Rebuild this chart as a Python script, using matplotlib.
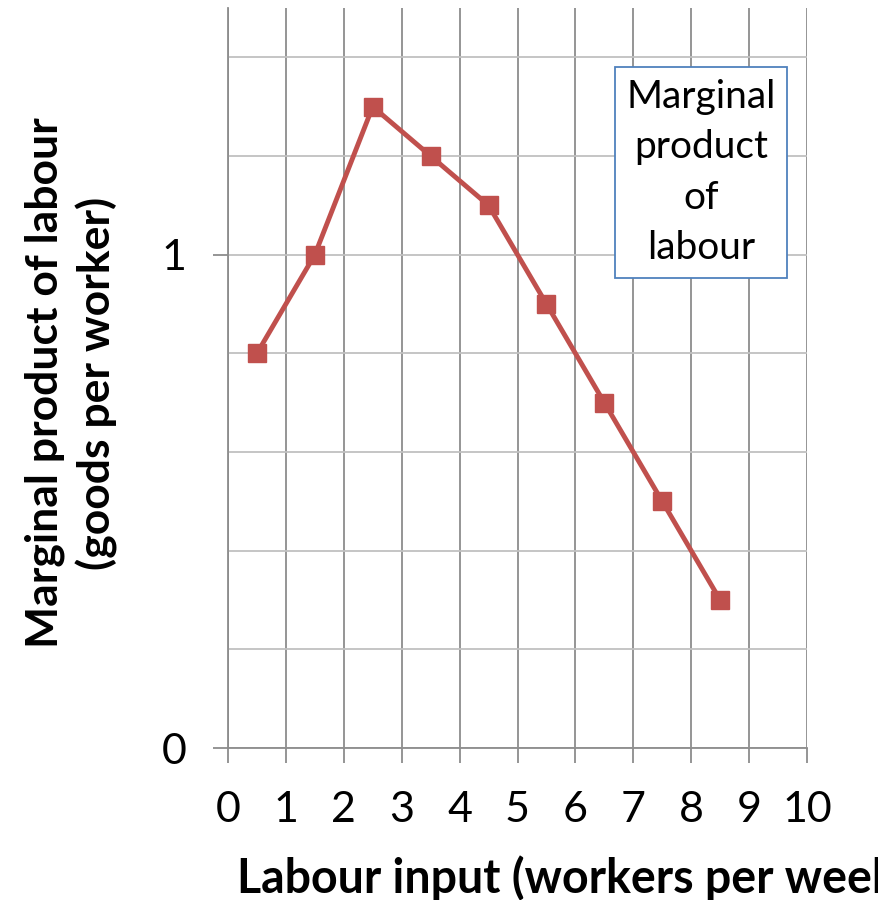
import numpy as np
import matplotlib.pyplot as plt

# labour input (workers per week) and marginal product
workers = [0.5, 1.5, 2.5, 3.5, 4.5, 5.5, 6.5, 7.5, 8.5]
mpl_values = [0.8, 1.0, 1.3, 1.2, 1.1, 0.9, 0.7, 0.5, 0.3]
x_ticks = list(range(0, 11))
y_ticks = [0, 1]

plt.rcParams['font.family'] = ['Lato', 'DejaVu Sans']

fig = plt.figure(figsize=(8.79, 9), dpi=100)
ax = fig.add_axes([228/879, 1-748/900, (807-228)/879, (748-8)/900])

ax.plot(workers, mpl_values, color='#C0504D', lw=3.5, marker='s',
        markersize=13, markerfacecolor='#C0504D', markeredgecolor='#C0504D', zorder=3)

ax.set_xlim(0, 10)
ax.set_ylim(0, 1.5)
ax.set_xticks(x_ticks)
ax.set_yticks(y_ticks)
ax.set_yticks(np.arange(0.2, 1.41, 0.2), minor=True)

ax.grid(axis='x', color='#8c8c8c', lw=1.3)
ax.grid(axis='y', which='both', color='#c0c0c0', lw=1.3)
ax.set_axisbelow(True)

for s in ['top', 'right']:
    ax.spines[s].set_visible(False)
ax.spines['left'].set_color('#8c8c8c')
ax.spines['bottom'].set_color('#8c8c8c')
ax.spines['left'].set_linewidth(1.3)
ax.spines['bottom'].set_linewidth(1.3)

ax.tick_params(axis='both', which='major', length=11, width=1.3, color='#8c8c8c',
               labelsize=31)
ax.tick_params(axis='x', pad=20)
ax.tick_params(axis='y', pad=19)
ax.tick_params(axis='y', which='minor', length=0)

fig.text(71/879, 1-383/900, 'Marginal product of labour\n(goods per worker)',
         fontsize=32, fontweight='bold', rotation=90, ha='center', va='center',
         multialignment='center', linespacing=1.3)

# the reference runs this label off the right edge of the picture
fig.text(237/879, 1-878/900, 'Labour input (workers per week)', fontsize=33.5,
         fontweight='bold', ha='left', va='center')

ax.text(0.817, 0.778, 'Marginal\nproduct\nof\nlabour', transform=ax.transAxes,
        fontsize=28, ha='center', va='center', linespacing=1.5,
        bbox=dict(boxstyle='square,pad=0.3', facecolor='white',
                  edgecolor='#4F81BD', lw=1.3), zorder=4)

fig.savefig('out.png', dpi=100)
